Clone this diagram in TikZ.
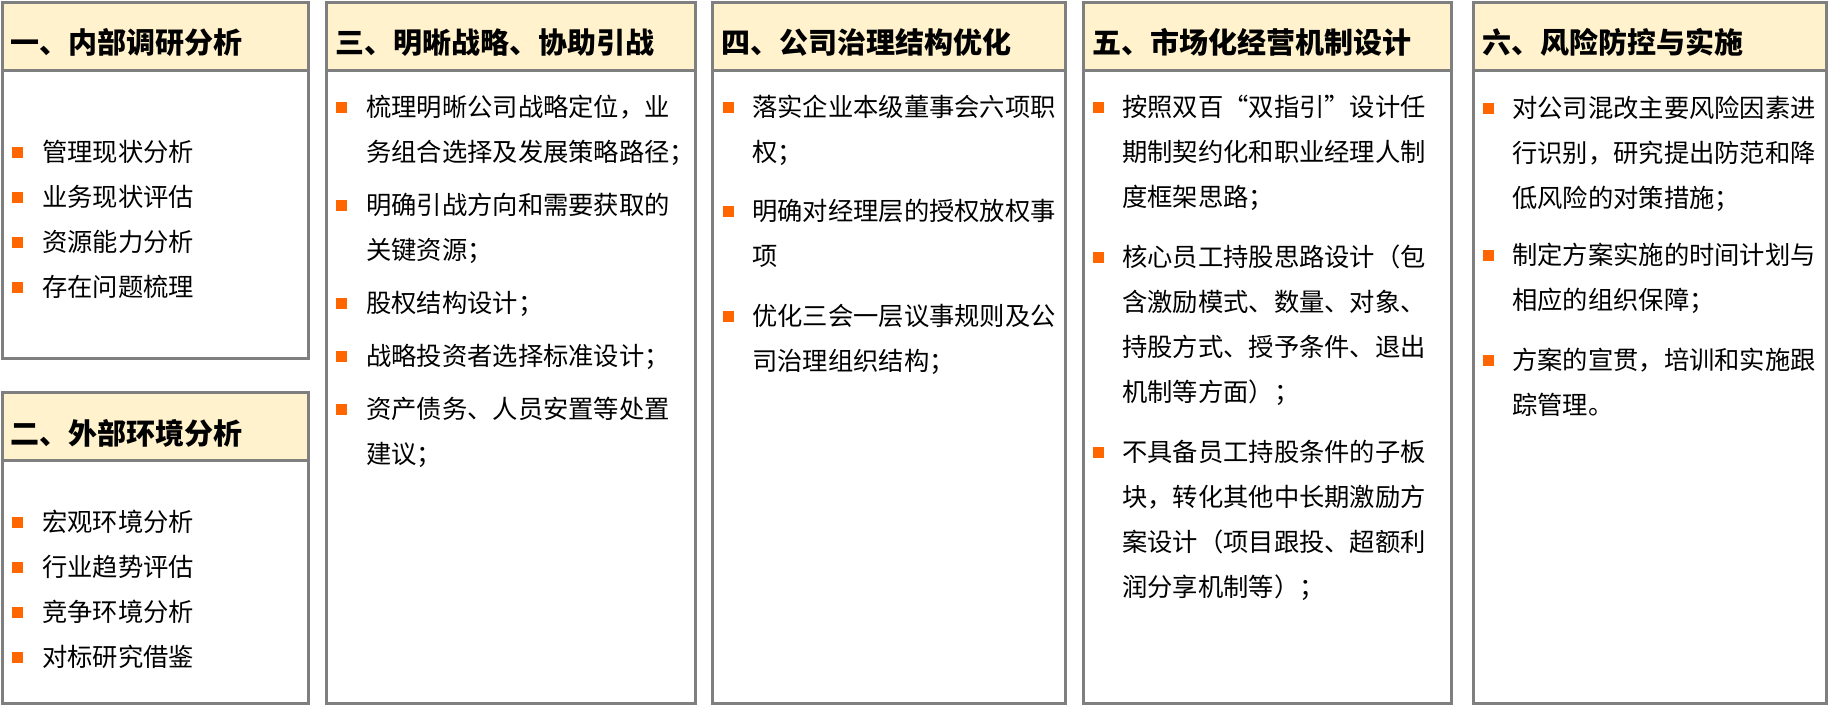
\documentclass[tikz,border=0pt]{standalone}
\usepackage{fontspec}
\setmainfont{Noto Sans CJK SC}
\usetikzlibrary{positioning}
\definecolor{boxgray}{HTML}{7F7F7F}
\definecolor{headfill}{HTML}{FFF2CC}
\definecolor{dotorange}{HTML}{FF6600}

\begin{document}
\begin{tikzpicture}[x=1pt, y=-1pt,
    headbox/.style={rectangle, draw=boxgray, line width=3pt, fill=headfill, inner sep=0pt, outer sep=0pt, anchor=north west, minimum height=68pt},
    bodybox/.style={rectangle, draw=boxgray, line width=3pt, fill=white, inner sep=0pt, outer sep=0pt, anchor=north west},
    headtext/.style={anchor=base west, inner sep=0pt, font=\fontsize{29}{34}\selectfont\bfseries},
    itemtext/.style={anchor=base west, inner sep=0pt, text width=340pt, align=left, font=\fontsize{25.3}{45}\selectfont},
    bulletsq/.style={rectangle, fill=dotorange, minimum size=11pt, inner sep=0pt}]
    \useasboundingbox (0,0) rectangle (1828,705);

    % boxes
    \node[bodybox, minimum width=306pt, minimum height=288pt] (b1) at (2,70) {};
    \node[bodybox, minimum width=306pt, minimum height=243pt] (b2) at (2,460) {};
    \node[bodybox, minimum width=369pt, minimum height=633pt] (b3) at (326,70) {};
    \node[bodybox, minimum width=353pt, minimum height=633pt] (b4) at (712,70) {};
    \node[bodybox, minimum width=368pt, minimum height=633pt] (b5) at (1083,70) {};
    \node[bodybox, minimum width=353pt, minimum height=633pt] (b6) at (1473,70) {};

    \node[headbox, minimum width=306pt] (h1) at (2,2) {};
    \node[headbox, minimum width=306pt] (h2) at (2,392) {};
    \node[headbox, minimum width=369pt] (h3) at (326,2) {};
    \node[headbox, minimum width=353pt] (h4) at (712,2) {};
    \node[headbox, minimum width=368pt] (h5) at (1083,2) {};
    \node[headbox, minimum width=353pt] (h6) at (1473,2) {};

    % titles
    \node[headtext] (t1) at (10,53) {一、内部调研分析};
    \node[headtext] (t2) at (10,444) {二、外部环境分析};
    \node[headtext] (t3) at (335,53) {三、明晰战略、协助引战};
    \node[headtext] (t4) at (721,53) {四、公司治理结构优化};
    \node[headtext] (t5) at (1092,53) {五、市场化经营机制设计};
    \node[headtext] (t6) at (1482,53) {六、风险防控与实施};

    % column 1
    \foreach \y/\txt [count=\k] in {152/管理现状分析, 197/业务现状评估, 242/资源能力分析, 287/存在问题梳理}{
        \node[bulletsq] (d1\k) at (17,\y) {};
        \node[itemtext] (i1\k) at (42,\y+9.5) {\txt};
    }
    \foreach \y/\txt [count=\k] in {522/宏观环境分析, 567/行业趋势评估, 612/竞争环境分析, 657/对标研究借鉴}{
        \node[bulletsq] (d2\k) at (17,\y) {};
        \node[itemtext] (i2\k) at (42,\y+9.5) {\txt};
    }

    % column 2
    \node[bulletsq] (d31) at (341,107) {};
    \node[itemtext] (i31) at (366,116.5) {梳理明晰公司战略定位，业\\务组合选择及发展策略路径；};
    \node[bulletsq] (d32) at (341,205) {};
    \node[itemtext] (i32) at (366,214.5) {明确引战方向和需要获取的\\关键资源；};
    \node[bulletsq] (d33) at (341,303) {};
    \node[itemtext] (i33) at (366,312.5) {股权结构设计；};
    \node[bulletsq] (d34) at (341,356) {};
    \node[itemtext] (i34) at (366,365.5) {战略投资者选择标准设计；};
    \node[bulletsq] (d35) at (341,409) {};
    \node[itemtext] (i35) at (366,418.5) {资产债务、人员安置等处置\\建议；};

    % column 3
    \node[bulletsq] (d41) at (728,107) {};
    \node[itemtext] (i41) at (752,116.5) {落实企业本级董事会六项职\\权；};
    \node[bulletsq] (d42) at (728,211) {};
    \node[itemtext] (i42) at (752,220.5) {明确对经理层的授权放权事\\项};
    \node[bulletsq] (d43) at (728,316) {};
    \node[itemtext] (i43) at (752,325.5) {优化三会一层议事规则及公\\司治理组织结构；};

    % column 4
    \node[bulletsq] (d51) at (1098,107) {};
    \node[itemtext] (i51) at (1122,116.5) {按照双百“双指引”设计任\\期制契约化和职业经理人制\\度框架思路；};
    \node[bulletsq] (d52) at (1098,257) {};
    \node[itemtext] (i52) at (1122,266.5) {核心员工持股思路设计（包\\含激励模式、数量、对象、\\持股方式、授予条件、退出\\机制等方面）；};
    \node[bulletsq] (d53) at (1098,452) {};
    \node[itemtext] (i53) at (1122,461.5) {不具备员工持股条件的子板\\块，转化其他中长期激励方\\案设计（项目跟投、超额利\\润分享机制等）；};

    % column 5
    \node[bulletsq] (d61) at (1488,108) {};
    \node[itemtext] (i61) at (1512,117.5) {对公司混改主要风险因素进\\行识别，研究提出防范和降\\低风险的对策措施；};
    \node[bulletsq] (d62) at (1488,255) {};
    \node[itemtext] (i62) at (1512,264.5) {制定方案实施的时间计划与\\相应的组织保障；};
    \node[bulletsq] (d63) at (1488,360) {};
    \node[itemtext] (i63) at (1512,369.5) {方案的宣贯，培训和实施跟\\踪管理。};
\end{tikzpicture}
\end{document}
